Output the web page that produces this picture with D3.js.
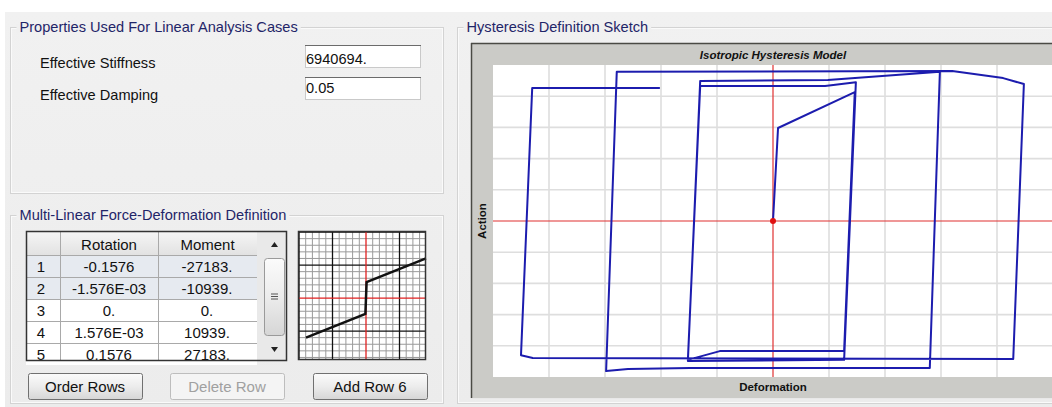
<!DOCTYPE html>
<html><head><meta charset="utf-8">
<script src="https://cdn.jsdelivr.net/npm/d3@7"></script>
<style>
html,body{margin:0;padding:0;background:#fff;}
svg{display:block;font-family:"Liberation Sans",Arial,sans-serif;}
</style></head>
<body>
<svg id="c" width="1052" height="407"></svg>
<script>
// ---------- data ----------
const propLabels = ["Effective Stiffness", "Effective Damping"];
const propValues = ["6940694.", "0.05"];
const tableHeaders = ["", "Rotation", "Moment"];
const rowNumbers = ["1", "2", "3", "4", "5"];
const rotationLabels = ["-0.1576", "-1.576E-03", "0.", "1.576E-03", "0.1576"];
const momentLabels = ["-27183.", "-10939.", "0.", "10939.", "27183."];
const rotationValues = [-0.1576, -0.001576, 0, 0.001576, 0.1576];
const momentValues = [-27183, -10939, 0, 10939, 27183];
const buttonLabels = ["Order Rows", "Delete Row", "Add Row 6"];
// hysteresis sketch path (deformation, action) in sketch grid units
const hystDeformation = [0, 0.09, 1.46, 1.27, -0.95, -1.52, -1.30, 0.93, 1.48, 1.27, -1.52, -1.30, 0.98, 2.98, 2.80, -1.48, -2.59, -2.98, -2.79, 3.20, 4.11, 4.48, 4.29, -4.29, -4.50, -4.30, -2.02];
const hystAction =      [0, 2.98, 4.13, -4.17, -4.17, -4.45, 4.33, 4.33, 4.45, -4.45, -4.49, 4.49, 4.52, 4.78, -4.71, -4.71, -4.74, -4.81, 4.78, 4.81, 4.58, 4.39, -4.42, -4.39, -4.30, 4.26, 4.26];
const sketchGrid = [-5,-4,-3,-2,-1,0,1,2,3,4,5];

const svg = d3.select("#c");
const navy = "#1f2568";
const FS = 14.6;

// ---------- background panels ----------
const defs = svg.append("defs");
const bg = defs.append("linearGradient").attr("id","bgg").attr("x1",0).attr("y1",0).attr("x2",0).attr("y2",1);
bg.append("stop").attr("offset","0").attr("stop-color","#f1f1f1");
bg.append("stop").attr("offset","1").attr("stop-color","#ececec");
const bt = defs.append("linearGradient").attr("id","btn").attr("x1",0).attr("y1",0).attr("x2",0).attr("y2",1);
bt.append("stop").attr("offset","0").attr("stop-color","#fbfbfb");
bt.append("stop").attr("offset","0.5").attr("stop-color","#ececec");
bt.append("stop").attr("offset","1").attr("stop-color","#d6d6d6");
const hd = defs.append("linearGradient").attr("id","hdr").attr("x1",0).attr("y1",0).attr("x2",0).attr("y2",1);
hd.append("stop").attr("offset","0").attr("stop-color","#f6f6f6");
hd.append("stop").attr("offset","1").attr("stop-color","#e2e2e2");

svg.append("rect").attr("x",5).attr("y",12).attr("width",1047).attr("height",395).attr("fill","url(#bgg)");

function groupBox(x, y, w, h, title) {
  const g = svg.append("g");
  g.append("rect").attr("x",x).attr("y",y).attr("width",w).attr("height",h)
    .attr("fill","none").attr("stroke","#d3d3d3").attr("stroke-width",1);
  g.append("rect").attr("x",x+1).attr("y",y+1).attr("width",w-2).attr("height",h-2)
    .attr("fill","none").attr("stroke","#fafafa").attr("stroke-width",1);
  const t = g.append("text").attr("x",x+9).attr("y",y+4).attr("font-size",FS).attr("fill",navy).text(title);
  const bb = t.node().getBBox();
  g.insert("rect","text").attr("x",bb.x-3).attr("y",y-3).attr("width",bb.width+6).attr("height",8).attr("fill","#f0f0f0");
  return g;
}
groupBox(10.5, 27.5, 433, 166, "Properties Used For Linear Analysis Cases");
groupBox(10.5, 215.5, 433, 188, "Multi-Linear Force-Deformation Definition");
groupBox(457.5, 27.5, 600, 376, "Hysteresis Definition Sketch");

// ---------- properties ----------
const props = svg.append("g");
propLabels.forEach((lab, i) => {
  props.append("text").attr("x",40).attr("y",68 + i*32).attr("font-size",FS).attr("fill","#111").text(lab);
  props.append("rect").attr("x",305.5).attr("y",45.5 + i*32).attr("width",115).attr("height",22)
    .attr("fill","#fff").attr("stroke","#c9c9c9");
  props.append("line").attr("x1",305).attr("x2",421).attr("y1",45.5+i*32).attr("y2",45.5+i*32).attr("stroke","#6b6b6b");
  props.append("text").attr("x",306).attr("y",64 + i*29).attr("font-size",FS).attr("fill","#111").text(propValues[i]);
});

// ---------- table ----------
const tbl = svg.append("g");
const colX = [26, 60, 158, 257];
const rowY = d3.scaleBand().domain(rowNumbers).range([255, 365]).paddingInner(0);
tbl.append("rect").attr("x",26).attr("y",231).attr("width",261).attr("height",129).attr("fill","#fff");
tbl.append("rect").attr("x",26).attr("y",231).attr("width",231).attr("height",24).attr("fill","url(#hdr)");
rowNumbers.forEach((r, i) => {
  tbl.append("rect").attr("x",26).attr("y",rowY(r)).attr("width",231).attr("height",rowY.bandwidth())
    .attr("fill", i < 2 ? "#e6eaf0" : "#ffffff");
});
tbl.append("g").selectAll("line").data(rowNumbers).join("line")
  .attr("x1",26).attr("x2",257).attr("y1",d=>rowY(d)+0.5).attr("y2",d=>rowY(d)+0.5).attr("stroke","#a9a9a9");
tbl.append("g").selectAll("line").data(colX.slice(1)).join("line")
  .attr("x1",d=>d+0.5).attr("x2",d=>d+0.5).attr("y1",231).attr("y2",360).attr("stroke","#a9a9a9");
tableHeaders.forEach((h, i) => {
  tbl.append("text").attr("x",(colX[i]+colX[i+1])/2).attr("y",249.5).attr("text-anchor","middle")
    .attr("font-size",FS+0.4).attr("fill","#111").text(h);
});
rowNumbers.forEach((r, i) => {
  const yy = rowY(r) + 16.5;
  tbl.append("text").attr("x",41).attr("y",yy).attr("text-anchor","middle").attr("font-size",FS+0.4).attr("fill","#111").text(r);
  tbl.append("text").attr("x",109).attr("y",yy).attr("text-anchor","middle").attr("font-size",FS+0.4).attr("fill","#111").text(rotationLabels[i]);
  tbl.append("text").attr("x",207).attr("y",yy).attr("text-anchor","middle").attr("font-size",FS+0.4).attr("fill","#111").text(momentLabels[i]);
});
// scrollbar
tbl.append("rect").attr("x",257).attr("y",231).attr("width",30).attr("height",129).attr("fill","#e9e9e9");
tbl.append("rect").attr("x",264.5).attr("y",258.5).attr("width",20).attr("height",77).attr("rx",3)
  .attr("fill","url(#btn)").attr("stroke","#9a9a9a");
[0,1,2].forEach(k => tbl.append("line").attr("x1",271).attr("x2",278).attr("y1",294+k*2.5).attr("y2",294+k*2.5).attr("stroke","#555"));
tbl.append("path").attr("d","M271,247 L278,247 L274.5,242 Z").attr("fill","#222");
tbl.append("path").attr("d","M271,347 L278,347 L274.5,352 Z").attr("fill","#222");
tbl.append("rect").attr("x",26.5).attr("y",231.5).attr("width",260).attr("height",129)
  .attr("fill","none").attr("stroke","#333").attr("stroke-width",1.5);

// ---------- mini backbone chart ----------
const mx = d3.scaleLinear().domain([-0.1786, 0.1576]).range([298, 426]);
const my = d3.scaleLinear().domain([-42500, 46000]).range([360, 231]);
const mini = svg.append("g");
mini.append("rect").attr("x",298).attr("y",231).attr("width",128).attr("height",129).attr("fill","#fff");
const mGridX = d3.scaleLinear().domain([-10, 10]).range([mx(0)-67, mx(0)+67]);
const mGridY = d3.scaleLinear().domain([-10, 10]).range([my(0)+66, my(0)-66]);
const minorX = d3.range(-10, 10.1, 1).filter(v => mGridX(v) >= 298 && mGridX(v) <= 426);
const minorY = d3.range(-10, 10.1, 1).filter(v => mGridY(v) >= 231 && mGridY(v) <= 360);
mini.append("g").selectAll("line").data(minorX.filter(v => v % 5 !== 0)).join("line")
  .attr("x1",d=>mGridX(d)).attr("x2",d=>mGridX(d)).attr("y1",231).attr("y2",360).attr("stroke","#9a9a9a").attr("stroke-width",1);
mini.append("g").selectAll("line").data(minorY.filter(v => v % 5 !== 0)).join("line")
  .attr("y1",d=>mGridY(d)).attr("y2",d=>mGridY(d)).attr("x1",298).attr("x2",426).attr("stroke","#9a9a9a").attr("stroke-width",1);
mini.append("g").selectAll("line").data(minorX.filter(v => v % 5 === 0 && v !== 0)).join("line")
  .attr("x1",d=>mGridX(d)).attr("x2",d=>mGridX(d)).attr("y1",231).attr("y2",360).attr("stroke","#111").attr("stroke-width",1.3);
mini.append("g").selectAll("line").data(minorY.filter(v => v % 5 === 0 && v !== 0)).join("line")
  .attr("y1",d=>mGridY(d)).attr("y2",d=>mGridY(d)).attr("x1",298).attr("x2",426).attr("stroke","#111").attr("stroke-width",1.3);
mini.append("line").attr("x1",mx(0)).attr("x2",mx(0)).attr("y1",231).attr("y2",360).attr("stroke","#e02020").attr("stroke-width",1.3);
mini.append("line").attr("x1",298).attr("x2",426).attr("y1",my(0)).attr("y2",my(0)).attr("stroke","#e02020").attr("stroke-width",1.3);
mini.append("path").datum(rotationValues.map((r,i)=>[r, momentValues[i]]))
  .attr("d", d3.line().x(d=>mx(d[0])).y(d=>my(d[1])))
  .attr("fill","none").attr("stroke","#111").attr("stroke-width",2.5);
mini.append("rect").attr("x",298.5).attr("y",231.5).attr("width",127).attr("height",128)
  .attr("fill","none").attr("stroke","#333").attr("stroke-width",1.5);

// ---------- buttons ----------
const btnX = [28, 170, 313];
buttonLabels.forEach((lab, i) => {
  const g = svg.append("g");
  g.append("rect").attr("x",btnX[i]+0.5).attr("y",373.5).attr("width",114).attr("height",26).attr("rx",2)
    .attr("fill", i === 1 ? "#f4f4f4" : "url(#btn)").attr("stroke", i === 1 ? "#bdbdbd" : "#707070");
  g.append("text").attr("x",btnX[i]+57).attr("y",391.5).attr("text-anchor","middle").attr("font-size",FS+0.4)
    .attr("fill", i === 1 ? "#a0a0a0" : "#111").text(lab);
});

// ---------- hysteresis sketch ----------
const x = d3.scaleLinear().domain([-5, 5]).range([493, 1053]);
const y = d3.scaleLinear().domain([-5, 5]).range([377, 65]);
const sk = svg.append("g");
sk.append("rect").attr("x",471).attr("y",43).attr("width",590).attr("height",355).attr("fill","#cbcbc7");
sk.append("line").attr("x1",471).attr("x2",1052).attr("y1",43.5).attr("y2",43.5).attr("stroke","#4a4a44").attr("stroke-width",1.5);
sk.append("line").attr("x1",471.5).attr("x2",471.5).attr("y1",43).attr("y2",398).attr("stroke","#4a4a44").attr("stroke-width",1.5);
sk.append("line").attr("x1",471).attr("x2",1052).attr("y1",398.5).attr("y2",398.5).attr("stroke","#e8e8e8").attr("stroke-width",1);
sk.append("rect").attr("x",x(-5)).attr("y",y(5)).attr("width",x(5)-x(-5)).attr("height",y(-5)-y(5)).attr("fill","#fff");
sk.append("g").selectAll("line").data(sketchGrid.filter(v => v !== 0 && v !== -5)).join("line")
  .attr("x1",d=>x(d)).attr("x2",d=>x(d)).attr("y1",y(5)).attr("y2",y(-5)).attr("stroke","#dedede").attr("stroke-width",1.6);
sk.append("g").selectAll("line").data(sketchGrid.filter(v => v !== 0 && Math.abs(v) !== 5)).join("line")
  .attr("y1",d=>y(d)).attr("y2",d=>y(d)).attr("x1",x(-5)).attr("x2",x(5)).attr("stroke","#dedede").attr("stroke-width",1.6);
sk.append("line").attr("x1",x(-5)).attr("x2",x(5)).attr("y1",y(0)).attr("y2",y(0)).attr("stroke","#e03030").attr("stroke-width",1.2);
sk.append("line").attr("x1",x(0)).attr("x2",x(0)).attr("y1",y(5)).attr("y2",y(-5)).attr("stroke","#e03030").attr("stroke-width",1.2);
sk.append("path").datum(hystDeformation.map((d,i)=>[d, hystAction[i]]))
  .attr("d", d3.line().x(d=>x(d[0])).y(d=>y(d[1])))
  .attr("fill","none").attr("stroke","#1c1cae").attr("stroke-width",2).attr("stroke-linejoin","round");
sk.append("circle").attr("cx",x(0)).attr("cy",y(0)).attr("r",3).attr("fill","#e01010");
sk.append("text").attr("x",x(0)).attr("y",58.5).attr("text-anchor","middle").attr("font-size",11.5)
  .attr("font-weight","bold").attr("font-style","italic").attr("fill","#111").text("Isotropic Hysteresis Model");
sk.append("text").attr("x",x(0)).attr("y",391).attr("text-anchor","middle").attr("font-size",11.5)
  .attr("font-weight","bold").attr("fill","#111").text("Deformation");
sk.append("text").attr("transform",`translate(486,${y(0)}) rotate(-90)`).attr("text-anchor","middle").attr("font-size",11.5)
  .attr("font-weight","bold").attr("fill","#111").text("Action");
</script>
</body></html>
